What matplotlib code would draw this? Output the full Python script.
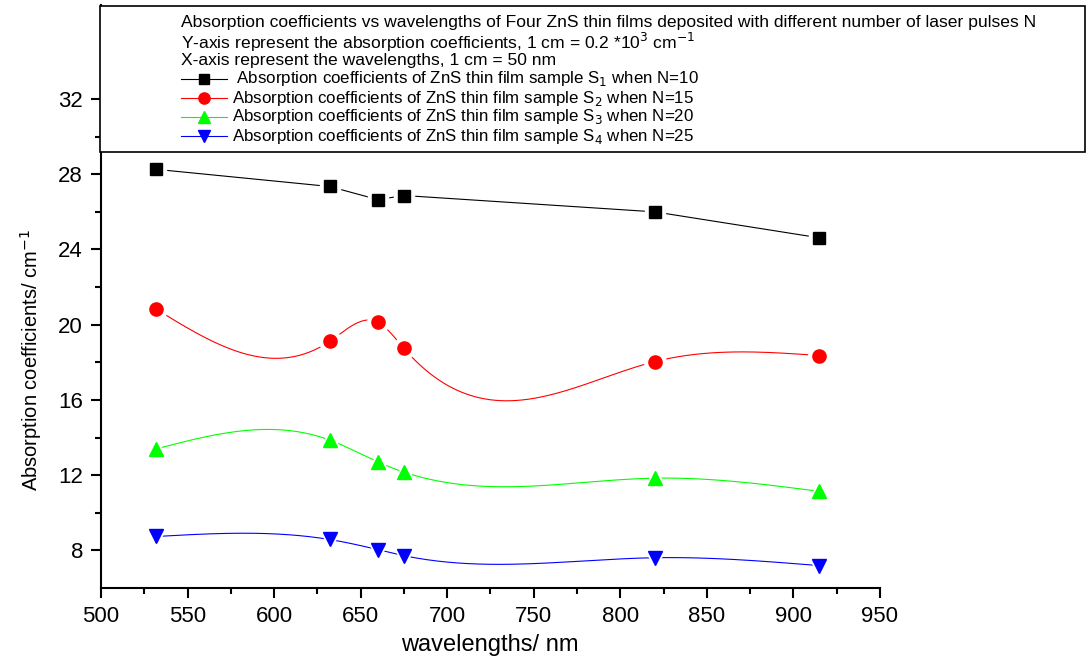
"""Absorption coefficients vs wavelength for four ZnS thin films (Origin-style plot)."""
import matplotlib
matplotlib.use("Agg")
import matplotlib.pyplot as plt
from matplotlib.lines import Line2D
from matplotlib.patches import Rectangle
import numpy as np

plt.rcParams["font.family"] = ["Liberation Sans", "DejaVu Sans"]

# -- data --
wavelengths = [532, 632, 660, 675, 820, 915]
s1 = [28.26, 27.35, 26.65, 26.87, 26.00, 24.62]
s2 = [20.82, 19.11, 20.13, 18.74, 18.04, 18.36]
s3 = [13.40, 13.87, 12.70, 12.16, 11.84, 11.14]
s4 = [8.74, 8.58, 8.04, 7.72, 7.61, 7.19]

series_labels = [
    r" Absorption coefficients of ZnS thin film sample S$_1$ when N=10",
    r"Absorption coefficients of ZnS thin film sample S$_2$ when N=15",
    r"Absorption coefficients of ZnS thin film sample S$_3$ when N=20",
    r"Absorption coefficients of ZnS thin film sample S$_4$ when N=25",
]
header_lines = [
    "Absorption coefficients vs wavelengths of Four ZnS thin films deposited with different number of laser pulses N",
    r"Y-axis represent the absorption coefficients, 1 cm = 0.2 *10$^3$ cm$^{-1}$",
    "X-axis represent the wavelengths, 1 cm = 50 nm",
]


def natural_spline(x, y, n=400):
    """Natural cubic spline through (x, y), used only to draw the connecting curve."""
    x = np.asarray(x, float)
    y = np.asarray(y, float)
    k = len(x)
    h = np.diff(x)
    A = np.zeros((k, k))
    b = np.zeros(k)
    A[0, 0] = A[-1, -1] = 1.0
    for i in range(1, k - 1):
        A[i, i - 1] = h[i - 1]
        A[i, i] = 2 * (h[i - 1] + h[i])
        A[i, i + 1] = h[i]
        b[i] = 3 * ((y[i + 1] - y[i]) / h[i] - (y[i] - y[i - 1]) / h[i - 1])
    c = np.linalg.solve(A, b)
    xs = np.linspace(x[0], x[-1], n)
    idx = np.clip(np.searchsorted(x, xs) - 1, 0, k - 2)
    dx = xs - x[idx]
    bb = (y[idx + 1] - y[idx]) / h[idx] - h[idx] * (2 * c[idx] + c[idx + 1]) / 3
    dd = (c[idx + 1] - c[idx]) / (3 * h[idx])
    ys = y[idx] + bb * dx + c[idx] * dx ** 2 + dd * dx ** 3
    return xs, ys


# colour, marker, marker size, spline connect?
styles = [
    ("black", "s", 8.5, False),
    ("#FF0000", "o", 9.5, True),
    ("#00FF00", "^", 10, True),
    ("#0000FF", "v", 10, True),
]

W, H = 1086, 657
fig = plt.figure(figsize=(W / 100, H / 100), dpi=100)
ax = fig.add_axes([101 / W, 1 - 588 / H, (880 - 101) / W, (588 - 5) / H])

for ys, (col, mk, ms, spline) in zip([s1, s2, s3, s4], styles):
    if spline:
        cx, cy = natural_spline(wavelengths, ys)
    else:
        cx, cy = wavelengths, ys
    ax.plot(cx, cy, color=col, linewidth=0.8, zorder=2)
    # white halo gives the broken-line look around each symbol
    ax.plot(wavelengths, ys, linestyle="none", marker=mk, markersize=ms + 6,
            markerfacecolor="white", markeredgecolor="white", zorder=3)
    ax.plot(wavelengths, ys, linestyle="none", marker=mk, markersize=ms,
            markerfacecolor=col, markeredgecolor=col, zorder=4)

ax.set_xlim(500, 950)
ax.set_ylim(6, 37)
ax.set_xticks(np.arange(500, 951, 50))
ax.set_xticks(np.arange(525, 950, 50), minor=True)
ax.set_yticks(np.arange(8, 33, 4))
ax.set_yticks(np.arange(10, 31, 4), minor=True)
for side in ("top", "right"):
    ax.spines[side].set_visible(False)
for side in ("left", "bottom"):
    ax.spines[side].set_linewidth(1.5)
ax.tick_params(which="major", direction="out", length=7, width=1.5, labelsize=16, pad=6)
ax.tick_params(which="minor", direction="out", length=4, width=1.5)
ax.set_xlabel("wavelengths/ nm", fontsize=17, va="center")
ax.xaxis.set_label_coords((490 - 101) / 779, (588 - 645) / 583)
ax.set_ylabel(r"Absorption coefficients/ cm$^{-1}$", fontsize=14.5, va="center")
ax.yaxis.set_label_coords((31 - 101) / 779, (588 - 360) / 583)

# -- legend box drawn by hand, reaching past the axes to the figure edge --
fig.patches.append(Rectangle((100 / W, 1 - 152 / H), (1085 - 100) / W, (152 - 6) / H,
                             transform=fig.transFigure, facecolor="white",
                             edgecolor="black", linewidth=1.2, zorder=5))
text_x = 181 / W
for yy, line in zip([23, 42, 60], header_lines):
    fig.text(text_x, 1 - yy / H, line, fontsize=12.6, va="center", ha="left", zorder=6)
for yy, lab, (col, mk, ms, _) in zip([79, 98, 117, 136], series_labels, styles):
    fy = 1 - yy / H
    fig.add_artist(Line2D([181 / W, 227 / W], [fy, fy], color=col, linewidth=0.8,
                          transform=fig.transFigure, zorder=6))
    fig.add_artist(Line2D([204 / W], [fy], marker=mk, markersize=ms * 0.85, color=col,
                          transform=fig.transFigure, zorder=7))
    fig.text(232 / W, fy, lab, fontsize=12.2, va="center", ha="left", zorder=6)

fig.savefig("out.png", dpi=100)
